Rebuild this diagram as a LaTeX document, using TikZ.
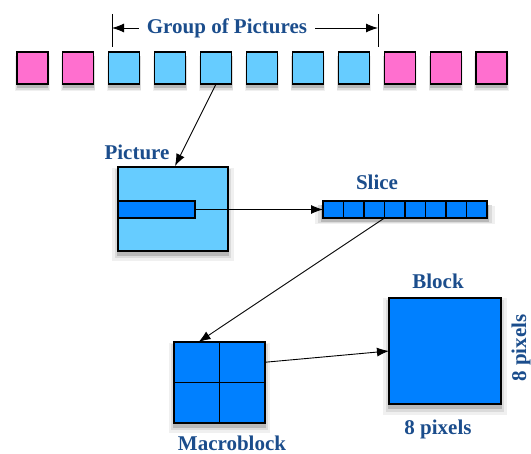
\documentclass[tikz,border=0pt]{standalone}
\usepackage{fontspec}
\setmainfont{Liberation Serif}
\usetikzlibrary{arrows.meta,shadows,calc}
\definecolor{pinkc}{HTML}{FF6FCF}
\definecolor{lightb}{HTML}{66CCFF}
\definecolor{darkb}{HTML}{0080FF}
\definecolor{labelc}{HTML}{1B4D8C}
\begin{document}
\begin{tikzpicture}[x=1pt,y=-1pt,
  sh/.style={
    general shadow={fill=black!6,draw=none,shadow xshift=0pt,shadow yshift=-5pt,shadow scale=1.1},
    general shadow={fill=black!14,draw=none,shadow xshift=0pt,shadow yshift=-4.5pt,shadow scale=1.06},
    general shadow={fill=black!28,draw=none,shadow xshift=0pt,shadow yshift=-4pt,shadow scale=1.02}},
  box/.style={draw=black,line width=1.1pt,inner sep=0pt,outer sep=0pt},
  frame/.style={box,sh,minimum width=31pt,minimum height=32pt},
  lbl/.style={text=labelc,font=\fontsize{21}{25}\selectfont\bfseries,inner sep=0pt},
  arr/.style={draw=black,line width=0.9pt,-{Latex[length=12pt,width=9pt]}},
  cell/.style={box,fill=darkb,minimum width=20.5pt,minimum height=17pt}
]
\useasboundingbox (0,0) rectangle (531,454);
% group of pictures row
\foreach \i/\c in {0/pinkc,1/pinkc,2/lightb,3/lightb,4/lightb,5/lightb,6/lightb,7/lightb,8/pinkc,9/pinkc,10/pinkc}{
  \node[frame,fill=\c] (f\i) at (32.5+45.9*\i,68) {};
}
% GOP label
\node[lbl] (gop) at (227,28) {Group of Pictures};
\coordinate (gl1) at (112,14); \coordinate (gl2) at (112,47);
\coordinate (gr1) at (378,14); \coordinate (gr2) at (378,47);
\draw[line width=1pt] (gl1) -- (gl2);
\draw[line width=1pt] (gr1) -- (gr2);
\coordinate (gla) at (112,28); \coordinate (gra) at (378,28);
\draw[arr] ($(gop.west)+(-8,0)$) -- (gla);
\draw[arr] ($(gop.east)+(8,0)$) -- (gra);
% Picture
\node[box,sh,fill=lightb,minimum width=110pt,minimum height=84pt] (pic) at (173,209) {};
\node[box,fill=darkb,minimum width=77pt,minimum height=17pt] (bar) at (156.5,209.5) {};
\node[lbl] (piclbl) at (137,152) {Picture};
\draw[arr] (f4.south) -- ($(pic.north)+(2,-1)$);
% Slice
\node[box,sh,fill=darkb,minimum width=164pt,minimum height=17pt] (slice) at (405,209.5) {};
\foreach \i in {0,...,7}{
  \node[cell] (s\i) at (333.25+20.5*\i,209.5) {};
}
\node[lbl] (slicelbl) at (377,182) {Slice};
\draw[arr] (bar.east) -- (s0.west);
% Macroblock
\node[box,sh,fill=darkb,minimum width=91pt,minimum height=81pt] (mb) at (219.5,382.5) {};
\draw[line width=1.1pt] (mb.north) -- (mb.south);
\draw[line width=1.1pt] (mb.west) -- (mb.east);
\node[lbl,anchor=base] (mblbl) at (232,451) {Macroblock};
\draw[arr] (s3.south west) -- ($(mb.north west)!0.27!(mb.north east)$);
% Block
\node[box,sh,fill=darkb,minimum width=112pt,minimum height=106pt] (blk) at (445,351) {};
\node[lbl] (blklbl) at (438,281) {Block};
\node[lbl] (px1) at (438,429) {8 pixels};
\node[lbl,rotate=90] (px2) at (521,348) {8 pixels};
\draw[arr] ($(mb.north east)!0.25!(mb.south east)$) -- (blk.west);
\end{tikzpicture}
\end{document}
